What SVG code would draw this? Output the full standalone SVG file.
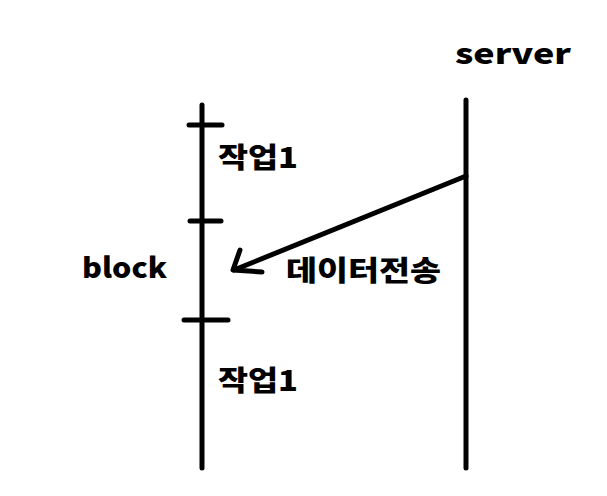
<svg xmlns="http://www.w3.org/2000/svg" width="607" height="496" viewBox="0 0 607 496">
<style>
.ln{stroke:#000;stroke-width:5;stroke-linecap:round;fill:none}
.t{font-family:"Noto Sans CJK KR","Noto Sans",sans-serif;font-weight:900;fill:#000}
</style>
<rect width="607" height="496" fill="#fff"/>
<g id="connectors">
<path class="ln" d="M466,176 L234,270"/>
<path class="ln" d="M240,250 L233,270 L262,272" stroke-linejoin="round"/>
</g>
<g id="client">
<path class="ln" d="M202,105 L202,468"/>
<path class="ln" d="M189,125 L222,125"/>
<path class="ln" d="M190,221 L221,221"/>
<path class="ln" d="M184,320 L228,320"/>
</g>
<g id="server">
<path class="ln" d="M466,100 L466,468"/>
<text class="t" x="455" y="64" font-size="28" textLength="116" lengthAdjust="spacingAndGlyphs">server</text>
</g>
<g id="task1"><text class="t" x="218" y="168" font-size="28" textLength="80" lengthAdjust="spacingAndGlyphs">작업1</text></g>
<g id="block"><text class="t" x="82" y="278" font-size="28" textLength="85" lengthAdjust="spacingAndGlyphs">block</text></g>
<g id="transfer"><text class="t" x="286" y="281" font-size="28" textLength="155" lengthAdjust="spacingAndGlyphs">데이터전송</text></g>
<g id="task2"><text class="t" x="218" y="391" font-size="28" textLength="80" lengthAdjust="spacingAndGlyphs">작업1</text></g>
</svg>
